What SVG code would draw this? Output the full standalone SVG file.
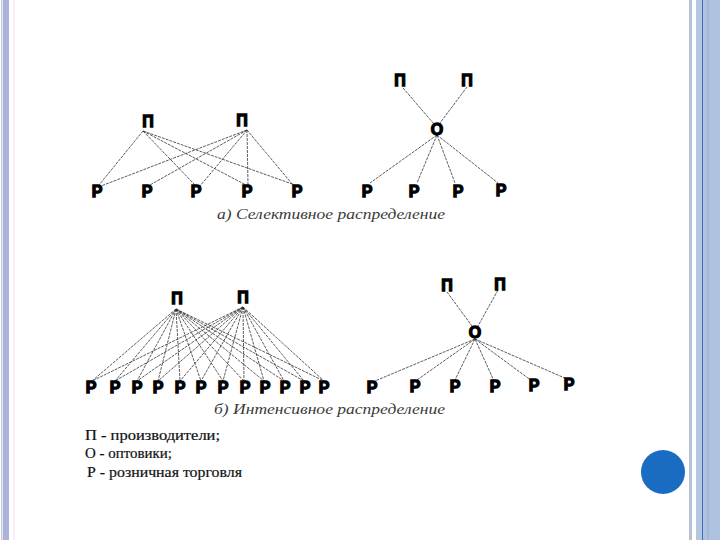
<svg xmlns="http://www.w3.org/2000/svg" width="720" height="540" viewBox="0 0 720 540">
<style>
.n{font-family:"Liberation Sans",Arial,sans-serif;font-weight:bold;font-size:16px;fill:#000;stroke:#000;stroke-width:1.3;text-anchor:middle}
.e line{stroke:#333;stroke-width:0.8;stroke-dasharray:3 1}
.cap{font-family:"Liberation Serif","DejaVu Serif",serif;font-style:italic;font-size:14px;fill:#3a3a3a}
.leg{font-family:"Liberation Serif","DejaVu Serif",serif;font-size:14px;fill:#111;stroke:#111;stroke-width:0.2}
</style>
<rect width="720" height="540" fill="#fff"/>
<g id="frame">
<rect x="1" y="0" width="1.5" height="540" fill="#c9cbd8"/>
<rect x="3" y="0" width="6" height="540" fill="#a9b3dc"/>
<rect x="13" y="0" width="2" height="540" fill="#fbeefa"/>
<rect x="689" y="0" width="3" height="540" fill="#b8c2d4"/>
<rect x="696" y="0" width="6" height="540" fill="#b4c6e0"/>
<rect x="702" y="0" width="1" height="540" fill="#3f6fb0"/>
<rect x="703" y="0" width="17" height="540" fill="#afc3e0"/>
<rect x="707" y="0" width="2" height="540" fill="#a3b8d8"/>
<circle cx="663" cy="472" r="22" fill="#1a6cc3"/>
</g>
<g id="connectors" class="e">
<line x1="143" y1="131" x2="99" y2="185"/>
<line x1="143" y1="131" x2="195" y2="185"/>
<line x1="143" y1="131" x2="246" y2="185"/>
<line x1="143" y1="131" x2="295" y2="185"/>
<line x1="247" y1="130" x2="101" y2="186"/>
<line x1="247" y1="130" x2="150" y2="185"/>
<line x1="247" y1="130" x2="200" y2="186"/>
<line x1="247" y1="130" x2="248" y2="185"/>
<line x1="247" y1="130" x2="293" y2="185"/>
<line x1="403" y1="88" x2="434" y2="124"/>
<line x1="467" y1="87" x2="440" y2="123"/>
<line x1="437" y1="135" x2="370" y2="183"/>
<line x1="437" y1="135" x2="417" y2="183"/>
<line x1="437" y1="135" x2="455" y2="183"/>
<line x1="437" y1="135" x2="498" y2="183"/>
<line x1="176" y1="309" x2="92" y2="381"/>
<line x1="176" y1="309" x2="115" y2="381"/>
<line x1="176" y1="309" x2="137" y2="381"/>
<line x1="176" y1="309" x2="158" y2="381"/>
<line x1="176" y1="309" x2="180" y2="381"/>
<line x1="176" y1="309" x2="201" y2="381"/>
<line x1="176" y1="309" x2="223" y2="381"/>
<line x1="176" y1="309" x2="244" y2="381"/>
<line x1="176" y1="309" x2="264" y2="381"/>
<line x1="176" y1="309" x2="284" y2="381"/>
<line x1="176" y1="309" x2="304" y2="381"/>
<line x1="176" y1="309" x2="324" y2="381"/>
<line x1="243" y1="307" x2="92" y2="381"/>
<line x1="243" y1="307" x2="115" y2="381"/>
<line x1="243" y1="307" x2="137" y2="381"/>
<line x1="243" y1="307" x2="158" y2="381"/>
<line x1="243" y1="307" x2="180" y2="381"/>
<line x1="243" y1="307" x2="201" y2="381"/>
<line x1="243" y1="307" x2="223" y2="381"/>
<line x1="243" y1="307" x2="244" y2="381"/>
<line x1="243" y1="307" x2="264" y2="381"/>
<line x1="243" y1="307" x2="284" y2="381"/>
<line x1="243" y1="307" x2="304" y2="381"/>
<line x1="243" y1="307" x2="324" y2="381"/>
<line x1="447" y1="292" x2="472" y2="326"/>
<line x1="498" y1="290" x2="478" y2="326"/>
<line x1="475" y1="339" x2="375" y2="381"/>
<line x1="475" y1="339" x2="417" y2="380"/>
<line x1="475" y1="339" x2="455" y2="380"/>
<line x1="475" y1="339" x2="494" y2="381"/>
<line x1="475" y1="339" x2="532" y2="381"/>
<line x1="475" y1="339" x2="567" y2="379"/>
</g>
<g id="selective-left">
<g id="s-p1"><text class="n" x="148" y="127">П</text></g>
<g id="s-p2"><text class="n" x="242" y="126">П</text></g>
<g id="s-r1"><text class="n" x="97" y="197">Р</text></g>
<g id="s-r2"><text class="n" x="147" y="197">Р</text></g>
<g id="s-r3"><text class="n" x="196" y="197">Р</text></g>
<g id="s-r4"><text class="n" x="247" y="197">Р</text></g>
<g id="s-r5"><text class="n" x="297" y="197">Р</text></g>
</g>
<g id="selective-right">
<g id="s-p3"><text class="n" x="400" y="86">П</text></g>
<g id="s-p4"><text class="n" x="467" y="86">П</text></g>
<g id="s-o"><text class="n" x="437" y="135">О</text></g>
<g id="s-r6"><text class="n" x="367" y="197">Р</text></g>
<g id="s-r7"><text class="n" x="414" y="197">Р</text></g>
<g id="s-r8"><text class="n" x="458" y="197">Р</text></g>
<g id="s-r9"><text class="n" x="501" y="196">Р</text></g>
</g>
<g id="intensive-left">
<g id="i-p1"><text class="n" x="177" y="304">П</text></g>
<g id="i-p2"><text class="n" x="243" y="303">П</text></g>
<g id="i-r1"><text class="n" x="91" y="393">Р</text></g>
<g id="i-r2"><text class="n" x="115" y="393">Р</text></g>
<g id="i-r3"><text class="n" x="137" y="393">Р</text></g>
<g id="i-r4"><text class="n" x="158" y="393">Р</text></g>
<g id="i-r5"><text class="n" x="180" y="393">Р</text></g>
<g id="i-r6"><text class="n" x="201" y="393">Р</text></g>
<g id="i-r7"><text class="n" x="223" y="393">Р</text></g>
<g id="i-r8"><text class="n" x="245" y="393">Р</text></g>
<g id="i-r9"><text class="n" x="265" y="393">Р</text></g>
<g id="i-r10"><text class="n" x="285" y="393">Р</text></g>
<g id="i-r11"><text class="n" x="305" y="393">Р</text></g>
<g id="i-r12"><text class="n" x="324" y="393">Р</text></g>
</g>
<g id="intensive-right">
<g id="i-p3"><text class="n" x="447" y="291">П</text></g>
<g id="i-p4"><text class="n" x="500" y="290">П</text></g>
<g id="i-o"><text class="n" x="475" y="338">О</text></g>
<g id="i-r13"><text class="n" x="372" y="393">Р</text></g>
<g id="i-r14"><text class="n" x="415" y="392">Р</text></g>
<g id="i-r15"><text class="n" x="455" y="392">Р</text></g>
<g id="i-r16"><text class="n" x="495" y="392">Р</text></g>
<g id="i-r17"><text class="n" x="534" y="391">Р</text></g>
<g id="i-r18"><text class="n" x="569" y="390">Р</text></g>
</g>
<g id="captions">
<text class="cap" x="217" y="219" textLength="228" lengthAdjust="spacingAndGlyphs">а) Селективное распределение</text>
<text class="cap" x="214" y="414" textLength="231" lengthAdjust="spacingAndGlyphs">б) Интенсивное распределение</text>
</g>
<g id="legend">
<text class="leg" x="85" y="440" textLength="135" lengthAdjust="spacingAndGlyphs">П - производители;</text>
<text class="leg" x="85" y="458" textLength="87" lengthAdjust="spacingAndGlyphs">О - оптовики;</text>
<text class="leg" x="87" y="477" textLength="155" lengthAdjust="spacingAndGlyphs">Р - розничная торговля</text>
</g>
</svg>
